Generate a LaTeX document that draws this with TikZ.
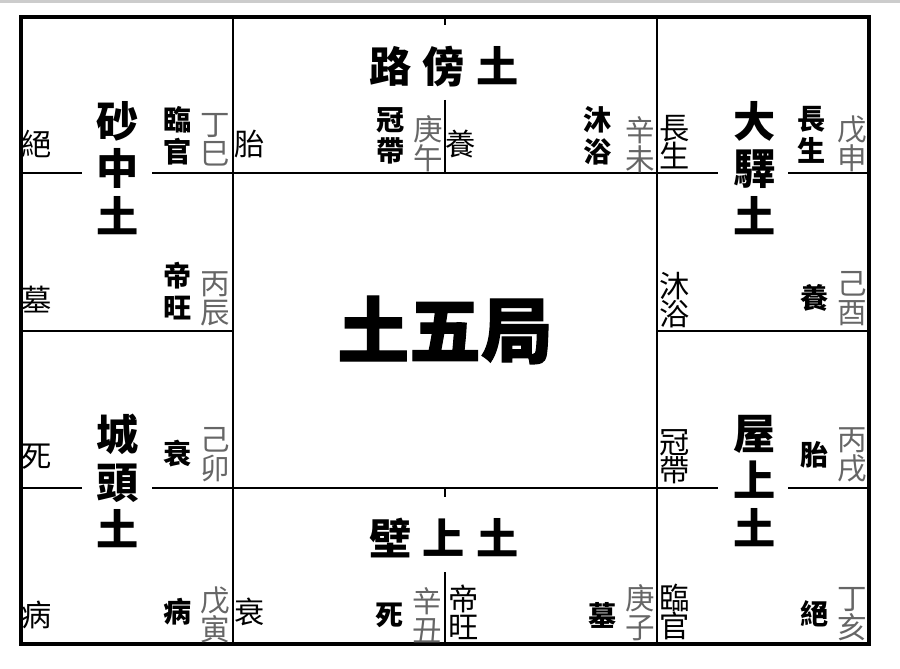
\documentclass[tikz,border=0pt]{standalone}
\usepackage{fontspec}
\newfontfamily\cjk{Noto Sans CJK TC}
\newfontfamily\cjkheavy{Noto Sans CJK TC}[BoldFeatures={FakeBold=1.6}]
\begin{document}
\begin{tikzpicture}[x=0.025cm, y=-0.025cm,
    grid/.style={line width=0.8pt},
    stage/.style={inner sep=0pt, align=center, font=\cjk\fontsize{21.5}{20}\selectfont},
    stem/.style={inner sep=0pt, align=center, text=black!60, font=\cjk\fontsize{21}{20.5}\selectfont},
    luck/.style={inner sep=0pt, align=center, font=\cjk\bfseries\fontsize{20}{22.5}\selectfont},
    nayin/.style={inner sep=0pt, align=center, font=\cjk\bfseries\fontsize{30}{34}\selectfont},
    title/.style={inner sep=0pt, font=\cjkheavy\bfseries\fontsize{51}{51}\selectfont}]
  \useasboundingbox (0, 0) rectangle (900, 669);
  \fill[black!20] (0, 0) rectangle (900, 3);
  % frame and grid
  \draw[line width=2.2pt] (21, 17) rectangle (869, 644);
  \draw[grid] (233, 17) -- (233, 644);
  \draw[grid] (657, 17) -- (657, 644);
  \draw[grid] (21, 173) -- (82, 173) (152, 173) -- (718, 173) (788, 173) -- (869, 173);
  \draw[grid] (21, 488) -- (82, 488) (152, 488) -- (718, 488) (788, 488) -- (869, 488);
  \draw[grid] (21, 331) -- (233, 331) (657, 331) -- (869, 331);
  \draw[grid] (445, 17) -- (445, 25) (445, 100) -- (445, 173);
  \draw[grid] (445, 488) -- (445, 497) (445, 572) -- (445, 644);
  % centre
  \node[title] (ju) at (445, 330) {土五局};
  % left column
  \node[stage] (sI) at (37, 144) {絕};
  \node[nayin] (nI) at (118, 168) {砂\\中\\土};
  \node[luck] (lI) at (178, 136) {臨\\官};
  \node[stem] (gI) at (215, 140) {丁\\巳};
  \node[stage] (sII) at (37, 300) {墓};
  \node[luck] (lII) at (178, 291) {帝\\旺};
  \node[stem] (gII) at (215, 299) {丙\\辰};
  \node[stage] (sIII) at (37, 457) {死};
  \node[nayin] (nIII) at (118, 481) {城\\頭\\土};
  \node[luck] (lIII) at (178, 454) {衰};
  \node[stem] (gIII) at (215, 455) {己\\卯};
  \node[stage] (sIV) at (37, 615) {病};
  \node[luck] (lIV) at (178, 612) {病};
  \node[stem] (gIV) at (215, 615) {戊\\寅};
  % top row
  \node[nayin] (nV) at (444, 67) {路\hspace{8pt}傍\hspace{8pt}土};
  \node[stage] (sV) at (250, 144) {胎};
  \node[luck] (lV) at (391, 136) {冠\\帶};
  \node[stem] (gV) at (428, 144) {庚\\午};
  \node[stage] (sVI) at (461, 144) {養};
  \node[luck] (lVI) at (598, 136) {沐\\浴};
  \node[stem] (gVI) at (640, 145) {辛\\未};
  % right column
  \node[stage] (sVII) at (675, 142) {長\\生};
  \node[nayin] (nVII) at (755, 168) {大\\驛\\土};
  \node[luck] (lVII) at (812, 135) {長\\生};
  \node[stem] (gVII) at (852, 144) {戊\\申};
  \node[stage] (sVIII) at (675, 300) {沐\\浴};
  \node[luck] (lVIII) at (815, 298) {養};
  \node[stem] (gVIII) at (852, 299) {己\\酉};
  \node[stage] (sIX) at (675, 457) {冠\\帶};
  \node[nayin] (nIX) at (755, 481) {屋\\上\\土};
  \node[luck] (lIX) at (815, 455) {胎};
  \node[stem] (gIX) at (852, 455) {丙\\戌};
  \node[stage] (sX) at (675, 612) {臨\\官};
  \node[luck] (lX) at (815, 614) {絕};
  \node[stem] (gX) at (852, 614) {丁\\亥};
  % bottom row
  \node[nayin] (nXI) at (444, 538) {壁\hspace{8pt}上\hspace{8pt}土};
  \node[stage] (sXI) at (250, 612) {衰};
  \node[luck] (lXI) at (390, 615) {死};
  \node[stem] (gXI) at (427, 615) {辛\\丑};
  \node[stage] (sXII) at (464, 612) {帝\\旺};
  \node[luck] (lXII) at (603, 615) {墓};
  \node[stem] (gXII) at (640, 613) {庚\\子};
\end{tikzpicture}
\end{document}
